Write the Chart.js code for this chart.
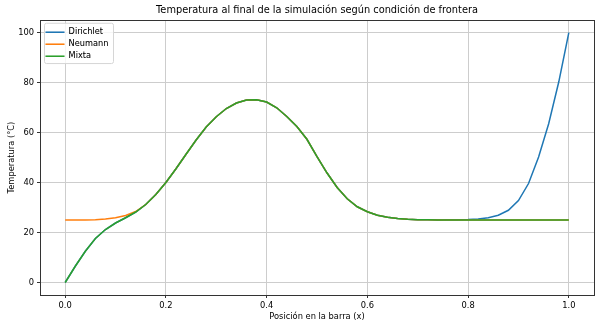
<!DOCTYPE html>
<html>
<head>
<meta charset="utf-8">
<script src="https://cdn.jsdelivr.net/npm/chart.js@4/dist/chart.umd.min.js"></script>
<style>
  body { margin: 0; background: #fff; }
  #wrap { width: 600px; height: 327px; }
</style>
</head>
<body>
<div id="wrap"><canvas id="myChart" width="600" height="327"></canvas></div>
<script>
// positions along the bar
const posX = [0.00, 0.02, 0.04, 0.06, 0.08, 0.10, 0.12, 0.14, 0.16, 0.18,
              0.20, 0.22, 0.24, 0.26, 0.28, 0.30, 0.32, 0.34, 0.36, 0.38,
              0.40, 0.42, 0.44, 0.46, 0.48, 0.50, 0.52, 0.54, 0.56, 0.58,
              0.60, 0.62, 0.64, 0.66, 0.68, 0.70, 0.72, 0.74, 0.76, 0.78,
              0.80, 0.82, 0.84, 0.86, 0.88, 0.90, 0.92, 0.94, 0.96, 0.98, 1.00];

// temperatures
const dirichlet = [0, 6.5, 12.5, 17.6, 21.2, 23.8, 25.9, 28.2, 31.2, 35.2,
                   40, 45.5, 51.3, 57, 62.2, 66.3, 69.6, 71.8, 73, 73.1,
                   72.2, 69.9, 66.4, 62.4, 57.3, 50.4, 43.8, 38, 33.5, 30.3,
                   28.3, 26.9, 26.1, 25.6, 25.3, 25.15, 25.08, 25.05, 25.06, 25.1,
                   25.2, 25.45, 25.9, 26.9, 28.9, 32.8, 39.6, 50.2, 63.5, 80.2, 100];
const neumann = [25, 25, 25.05, 25.15, 25.4, 25.9, 26.8, 28.4, 31.2, 35.2,
                 40, 45.5, 51.3, 57, 62.2, 66.3, 69.6, 71.8, 73, 73.1,
                 72.2, 69.9, 66.4, 62.4, 57.3, 50.4, 43.8, 38, 33.5, 30.3,
                 28.3, 26.9, 26.1, 25.6, 25.3, 25.15, 25.08, 25.04, 25.02, 25,
                 25, 25, 25, 25, 25, 25, 25, 25, 25, 25, 25];
const mixta = [0, 6.5, 12.5, 17.6, 21.2, 23.8, 25.9, 28.2, 31.2, 35.2,
               40, 45.5, 51.3, 57, 62.2, 66.3, 69.6, 71.8, 73, 73.1,
               72.2, 69.9, 66.4, 62.4, 57.3, 50.4, 43.8, 38, 33.5, 30.3,
               28.3, 26.9, 26.1, 25.6, 25.3, 25.15, 25.08, 25.04, 25.02, 25,
               25, 25, 25, 25, 25, 25, 25, 25, 25, 25, 25];

const xTicks = [0, 0.2, 0.4, 0.6, 0.8, 1.0];
const yTicks = [0, 20, 40, 60, 80, 100];

const FONT = 'DejaVu Sans';

function pts(ys) {
    return posX.map((x, i) => ({ x: x, y: ys[i] }));
}

function series(label, ys, color, order) {
    return {
        label: label,
        data: pts(ys),
        borderColor: color,
        backgroundColor: color,
        borderWidth: 1.5,
        pointRadius: 0,
        tension: 0,
        order: order
    };
}

// frame round the plot + legend box, like matplotlib
const framePlugin = {
    id: 'frame',
    afterLayout(chart) {
        const a = chart.chartArea;
        const lg = chart.legend;
        const w = lg.width, h = lg.height;
        lg.left = a.left + 1.7;
        lg.top = a.top + 4.2;
        lg.right = lg.left + w;
        lg.bottom = lg.top + h;
    },
    beforeDatasetsDraw(chart) {
        const ctx = chart.ctx;
        const lg = chart.legend;
        const x = lg.left + 2.3, y = lg.top - 1.5, w = 69, h = 40.3;
        ctx.save();
        ctx.beginPath();
        ctx.roundRect(x + 0.5, y + 0.5, w, h, 2);
        ctx.fillStyle = 'rgba(255,255,255,0.8)';
        ctx.fill();
        ctx.strokeStyle = '#d6d6d6';
        ctx.lineWidth = 1;
        ctx.stroke();
        ctx.restore();
        lg.draw();
    },
    afterDatasetsDraw(chart) {
        const ctx = chart.ctx;
        const a = chart.chartArea;
        ctx.save();
        ctx.strokeStyle = '#333';
        ctx.lineWidth = 1;
        ctx.strokeRect(Math.round(a.left) + 0.5, Math.round(a.top) + 0.5,
                       Math.round(a.right - a.left), Math.round(a.bottom - a.top));
        ctx.restore();
    }
};

const ctx = document.getElementById('myChart').getContext('2d');
new Chart(ctx, {
    type: 'line',
    data: {
        datasets: [
            series('Dirichlet', dirichlet, '#1f77b4', 2),
            series('Neumann', neumann, '#ff7f0e', 1),
            series('Mixta', mixta, '#2ca02c', 0)
        ]
    },
    options: {
        responsive: false,
        animation: false,
        devicePixelRatio: 1,
        layout: { padding: { top: 0, right: 6, bottom: 0, left: 0 } },
        plugins: {
            title: {
                display: true,
                fullSize: false,
                text: 'Temperatura al final de la simulación según condición de frontera',
                color: '#000',
                font: { family: FONT, size: 9.8, weight: 'normal' },
                padding: { top: 5, bottom: 3.3 }
            },
            legend: {
                position: 'chartArea',
                align: 'start',
                labels: {
                    font: { family: FONT, size: 8.2 },
                    color: '#000',
                    boxWidth: 19,
                    boxHeight: 0,
                    padding: 3.8,
                    sort: (a, b) => a.datasetIndex - b.datasetIndex
                }
            },
            tooltip: { enabled: false }
        },
        scales: {
            x: {
                type: 'linear',
                min: -0.05,
                max: 1.05,
                afterBuildTicks: s => { s.ticks = xTicks.map(v => ({ value: v })); },
                afterFit: s => { s.height = 32; },
                ticks: {
                    color: '#000',
                    font: { family: FONT, size: 8.3 },
                    padding: 3,
                    maxRotation: 0,
                    callback: v => v.toFixed(1)
                },
                grid: { color: '#cdcdcd', lineWidth: 1, tickColor: '#333', tickLength: 3 },
                border: { display: false },
                title: {
                    display: true,
                    text: 'Posición en la barra (x)',
                    color: '#000',
                    font: { family: FONT, size: 8.3 },
                    padding: { top: 0, bottom: 5 }
                }
            },
            y: {
                min: -5,
                max: 105,
                afterBuildTicks: s => { s.ticks = yTicks.map(v => ({ value: v })); },
                afterFit: s => { s.width = 40; },
                ticks: {
                    color: '#000',
                    font: { family: FONT, size: 8.3 },
                    padding: 3
                },
                grid: { color: '#cdcdcd', lineWidth: 1, tickColor: '#333', tickLength: 3 },
                border: { display: false },
                title: {
                    display: true,
                    text: 'Temperatura (°C)',
                    color: '#000',
                    font: { family: FONT, size: 8.3 },
                    padding: { top: 7, bottom: 0 }
                }
            }
        }
    },
    plugins: [framePlugin]
});
</script>
</body>
</html>
